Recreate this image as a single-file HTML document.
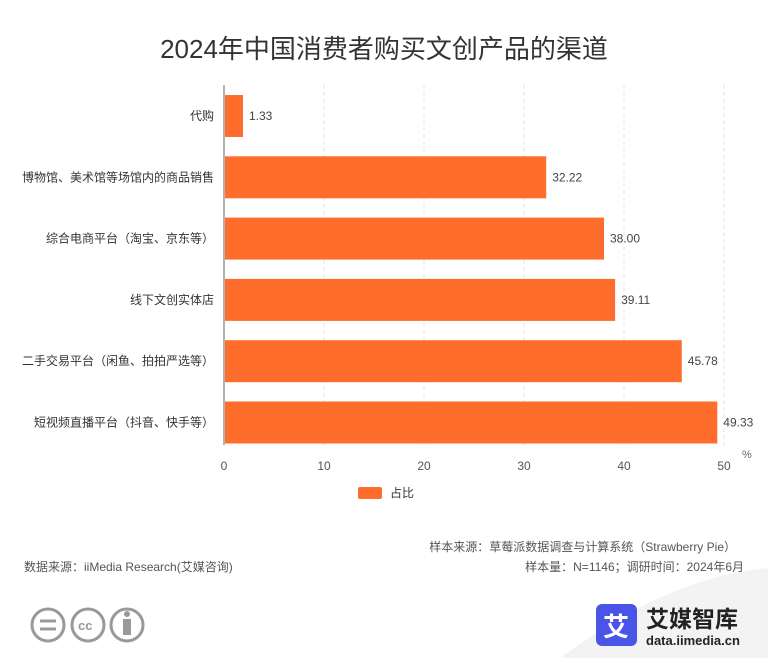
<!DOCTYPE html>
<html><head><meta charset="utf-8"><style>
body{margin:0;width:768px;height:658px;background:#fff;font-family:"Liberation Sans","Noto Sans CJK SC",sans-serif;position:relative;overflow:hidden}
.t{position:absolute;white-space:nowrap}
</style></head><body>
<div class="t" style="left:0;width:768px;text-align:center;top:29px;font-size:26px;color:#333">2024年中国消费者购买文创产品的渠道</div>
<svg width="768" height="658" style="position:absolute;left:0;top:0">
<path d="M560 658 C640 600 700 575 768 568 L768 658 Z" fill="#f3f3f3"/>
<g id="grid"></g><g id="bars"></g>
<line x1="224" y1="85" x2="224" y2="445" stroke="#666"/>
<text x="742" y="458" font-size="11" fill="#666" font-family="Liberation Sans">%</text>
<rect x="358" y="487" width="24" height="12" rx="2" fill="#ff6d2d"/>
<text x="390" y="497" font-size="12" fill="#333" font-family="Liberation Sans,Noto Sans CJK SC">占比</text>
<g fill="none" stroke="#999" stroke-width="3">
<circle cx="48" cy="625" r="16"/><circle cx="88" cy="625" r="16"/><circle cx="127" cy="625" r="16"/>
<line x1="40" y1="621" x2="56" y2="621"/><line x1="40" y1="629" x2="56" y2="629"/>
<circle cx="127" cy="614" r="3" fill="#999" stroke="none"/><rect x="123" y="619" width="8" height="16" fill="#999" stroke="none"/>
</g>
<text x="78" y="630" font-size="13" font-weight="bold" fill="#999" font-family="Liberation Sans">cc</text>
<rect x="596" y="604" width="41" height="42" rx="6" fill="#4a55e8"/>
<text x="616" y="636" font-size="26" text-anchor="middle" fill="#fff" font-weight="bold" font-family="Noto Sans CJK SC,sans-serif">艾</text>
<text x="646" y="627" font-size="23" font-weight="bold" fill="#222" font-family="Noto Sans CJK SC,sans-serif">艾媒智库</text>
<text x="646" y="645" font-size="13" font-weight="bold" fill="#222" font-family="Liberation Sans">data.iimedia.cn</text>
</svg>
<div class="t" style="right:32px;top:538px;font-size:12px;color:#555">样本来源：草莓派数据调查与计算系统（Strawberry Pie）</div>
<div class="t" style="left:24px;top:558px;font-size:12px;color:#555">数据来源：iiMedia Research(艾媒咨询)</div>
<div class="t" style="right:24px;top:558px;font-size:12px;color:#555">样本量：N=1146；调研时间：2024年6月</div>
<script>
const categories=["代购","博物馆、美术馆等场馆内的商品销售","综合电商平台（淘宝、京东等）","线下文创实体店","二手交易平台（闲鱼、拍拍严选等）","短视频直播平台（抖音、快手等）"];
const values=[1.33,32.22,38.00,39.11,45.78,49.33];
const ticks=[0,10,20,30,40,50];
const NS="http://www.w3.org/2000/svg";
const x0=224,pxPer=10,top0=85,step=61.3,bh=42;
const xs=v=>x0+v*pxPer;
function mk(tag,attrs,parent){const e=document.createElementNS(NS,tag);for(const k in attrs)e.setAttribute(k,attrs[k]);parent.appendChild(e);return e;}
const grid=document.getElementById('grid'),bars=document.getElementById('bars');
ticks.forEach(t=>{
 if(t>0){const l=mk('line',{x1:xs(t),x2:xs(t),y1:85,y2:445,stroke:'#e3e3e3','stroke-dasharray':'4,3'},grid);
 
 }
 const tx=mk('text',{x:xs(t),y:470,'font-size':12,fill:'#555','text-anchor':'middle','font-family':'Liberation Sans'},grid);
 tx.textContent=t;
 
 
});
categories.forEach((c,i)=>{
 const y=top0+10+i*step;const w=Math.max(values[i]*pxPer,19);
 const r=mk('rect',{x:x0+1,y:y,width:w-1,height:bh,fill:'#ff6d2d'},bars);
 
 
 const v=mk('text',{x:x0+w+6,y:y+bh/2+4,'font-size':12,fill:'#444','font-family':'Liberation Sans'},bars);
 v.textContent=values[i].toFixed(2);
 
 
 const l=mk('text',{x:214,y:y+bh/2+4,'font-size':12,fill:'#333','text-anchor':'end','font-family':'Liberation Sans,Noto Sans CJK SC,sans-serif'},bars);
 l.textContent=c;
 
 
});
</script>
</body></html>
